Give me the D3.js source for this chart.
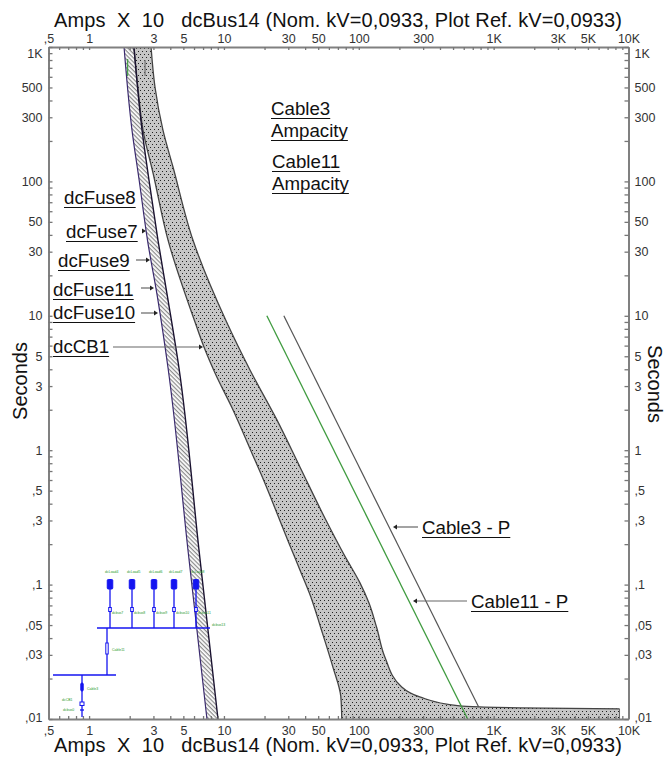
<!DOCTYPE html>
<html>
<head>
<meta charset="utf-8">
<script src="https://cdn.jsdelivr.net/npm/d3@7"></script>
<style>
    body { margin: 0; background: #fff; }
    text { font-family: "Liberation Sans", Arial, sans-serif; }
    .tick-labels text { font-size: 12.5px; fill: #333; font-family: "Liberation Sans", Arial, sans-serif; }
</style>
</head>
<body>
<div id="chart"></div>
<script>
// axis labels
const xTickValues = [0.5, 1, 3, 5, 10, 30, 50, 100, 300, 1000, 3000, 5000, 10000];
const xTickLabels = [",5", "1", "3", "5", "10", "30", "50", "100", "300", "1K", "3K", "5K", "10K"];
const yTickValues = [1000, 500, 300, 100, 50, 30, 10, 5, 3, 1, 0.5, 0.3, 0.1, 0.05, 0.03, 0.01];
const yTickLabels = ["1K", "500", "300", "100", "50", "30", "10", "5", "3", "1", ",5", ",3", ",1", ",05", ",03", ",01"];

// fuse band (amps x 10, seconds)
const fuseSeconds = [1000, 241, 102.4, 36.6, 13.1, 4.09, 0.181, 0.01];
const fuseLeftAmps = [1.816, 2.08, 2.35, 2.71, 3.24, 3.85, 5.41, 7.48];
const fuseRightAmps = [2.15, 2.47, 2.78, 3.24, 3.85, 4.64, 6.53, 9.03];

// breaker band
const cbLeftAmps = [2.15, 2.31, 2.51, 2.98, 3.85, 6.10, 7.11, 8.72, 11.5, 16.1, 20.1, 24.7, 30.3, 36.6, 44.1, 52.3, 64.2, 73.6, 74.8];
const cbLeftSeconds = [1000, 479, 241, 115.5, 36.6, 8.99, 5.86, 3.63, 2.06, 0.953, 0.57, 0.341, 0.204, 0.1286, 0.0809, 0.0475, 0.0244, 0.0146, 0.01];
const cbRightAmps = [2.88, 3.08, 3.53, 4.19, 5.89, 10.3, 15.6, 24.7, 36.6, 56, 78.8, 102, 119, 136, 156, 208, 283, 560, 787, 1558, 8580, 8580];
const cbRightSeconds = [1000, 504, 241, 128, 36.6, 9.3, 3.95, 1.68, 0.75, 0.313, 0.163, 0.103, 0.0729, 0.0475, 0.0289, 0.0173, 0.0146, 0.0125, 0.0123, 0.0121, 0.0119, 0.01];

// cable damage lines
const cable3Amps = [27.8, 774];
const cable3Seconds = [10, 0.0123];
const cable11Amps = [20.8, 642];
const cable11Seconds = [10, 0.01];

// short ampacity marks at the top
const ampacity11Amps = [1.93, 1.93];
const ampacity11Seconds = [814, 608];
const ampacity3Amps = [2.6, 2.6];
const ampacity3Seconds = [800, 608];

const titleText = "Amps  X  10   dcBus14 (Nom. kV=0,0933, Plot Ref. kV=0,0933)";

let width = 665, height = 758;

let svg = d3.select("#chart")
    .append("svg")
    .attr("width", width)
    .attr("height", height)
    .style("display", "block");

let x = d3.scaleLog().domain([0.5, 10000]).range([48.5, 628.5]);
let y = d3.scaleLog().domain([0.01, 1000]).range([719, 47]);

// every 1..9 per decade gets a tick, only some get a label
let decadeTicks = (lo, hi) => {
    let out = [];
    for (let e = -2; e <= 4; e++) {
        for (let m = 1; m <= 9; m++) {
            let v = m * Math.pow(10, e);
            if (v >= lo && v <= hi) out.push(v);
        }
    }
    return out;
};

let closeTo = (a, b) => Math.abs(a - b) / b < 1e-6;
let labelFor = (values, labels) => (v) => {
    let i = values.findIndex((t) => closeTo(v, t));
    return i < 0 ? "" : labels[i];
};

let defs = svg.append("defs");

let hatch = defs.append("pattern")
    .attr("id", "hatch")
    .attr("width", 3)
    .attr("height", 3)
    .attr("patternUnits", "userSpaceOnUse")
    .attr("patternTransform", "rotate(45)");
hatch.append("rect").attr("width", 3).attr("height", 3).attr("fill", "#fff");
hatch.append("rect").attr("width", 3).attr("height", 1.2).attr("fill", "#8a8a8a");

let stipple = defs.append("pattern")
    .attr("id", "stipple")
    .attr("width", 4)
    .attr("height", 6)
    .attr("patternUnits", "userSpaceOnUse");
stipple.append("rect").attr("width", 4).attr("height", 6).attr("fill", "#c6c6c6");
stipple.append("rect").attr("x", 0).attr("y", 0).attr("width", 1).attr("height", 1).attr("fill", "#222");
stipple.append("rect").attr("x", 2).attr("y", 3).attr("width", 1).attr("height", 1).attr("fill", "#222");

let zip = (xs, ys) => xs.map((d, i) => [d, ys[i]]);

let edge = d3.line()
    .x((d) => x(d[0]))
    .y((d) => y(d[1]))
    .curve(d3.curveMonotoneY);

let straight = d3.line()
    .x((d) => x(d[0]))
    .y((d) => y(d[1]));

let band = (left, right, fill) => {
    let rev = right.slice().reverse();
    svg.append("path")
        .attr("d", edge(left) + "L" + edge(rev).slice(1) + "Z")
        .attr("fill", fill);
};

// fuse band
let fuseLeft = zip(fuseLeftAmps, fuseSeconds);
let fuseRight = zip(fuseRightAmps, fuseSeconds);
band(fuseLeft, fuseRight, "url(#hatch)");

// breaker band
let cbLeft = zip(cbLeftAmps, cbLeftSeconds);
let cbRight = zip(cbRightAmps, cbRightSeconds);
band(cbLeft, cbRight, "url(#stipple)");

let cbKnee = cbRight.slice(0, -1);
svg.append("path").attr("d", edge(cbLeft)).attr("fill", "none").attr("stroke", "#444").attr("stroke-width", 1.3);
svg.append("path").attr("d", edge(cbKnee)).attr("fill", "none").attr("stroke", "#444").attr("stroke-width", 1.3);
svg.append("path").attr("d", straight(cbRight.slice(-2))).attr("fill", "none").attr("stroke", "#666").attr("stroke-width", 1);

svg.append("path").attr("d", edge(fuseLeft)).attr("fill", "none").attr("stroke", "#3a2a6e").attr("stroke-width", 1.2);
svg.append("path").attr("d", edge(fuseRight)).attr("fill", "none").attr("stroke", "#1a1230").attr("stroke-width", 1.4);

// cables
svg.append("path").attr("d", straight(zip(cable3Amps, cable3Seconds)))
    .attr("fill", "none").attr("stroke", "#555").attr("stroke-width", 1.2);
svg.append("path").attr("d", straight(zip(cable11Amps, cable11Seconds)))
    .attr("fill", "none").attr("stroke", "#3f9b3f").attr("stroke-width", 1.3);
svg.append("path").attr("d", straight(zip(ampacity11Amps, ampacity11Seconds)))
    .attr("fill", "none").attr("stroke", "#4aa04a").attr("stroke-width", 1.3);
svg.append("path").attr("d", straight(zip(ampacity3Amps, ampacity3Seconds)))
    .attr("fill", "none").attr("stroke", "#777").attr("stroke-width", 1.3);

// axes
let xTicks = decadeTicks(0.5, 10000);
let yTicks = decadeTicks(0.01, 1000);
let xLabel = labelFor(xTickValues, xTickLabels);
let yLabel = labelFor(yTickValues, yTickLabels);

let styleAxis = (g) => {
    g.attr("class", "tick-labels");
    g.selectAll(".domain").attr("stroke", "#808080").attr("stroke-width", 2);
    g.selectAll(".tick line").attr("stroke", "#777").attr("stroke-width", 1.3);
};

svg.append("g").attr("transform", "translate(0,47)")
    .call(d3.axisTop(x).tickValues(xTicks).tickFormat(xLabel).tickSizeInner(-3).tickSizeOuter(0).tickPadding(4))
    .call(styleAxis);
svg.append("g").attr("transform", "translate(0,719)")
    .call(d3.axisBottom(x).tickValues(xTicks).tickFormat(xLabel).tickSizeInner(-3).tickSizeOuter(0).tickPadding(7))
    .call(styleAxis);

let leftAxis = svg.append("g").attr("transform", "translate(48.5,0)")
    .call(d3.axisLeft(y).tickValues(yTicks).tickFormat(yLabel).tickSizeInner(-4).tickSizeOuter(0).tickPadding(6))
    .call(styleAxis);
let rightAxis = svg.append("g").attr("transform", "translate(628.5,0)")
    .call(d3.axisRight(y).tickValues(yTicks).tickFormat(yLabel).tickSizeInner(-4).tickSizeOuter(0).tickPadding(6))
    .call(styleAxis);

[leftAxis, rightAxis].forEach((a) => {
    a.selectAll(".tick text")
        .filter((d) => closeTo(d, 1000))
        .attr("dy", "0.84em");
    a.selectAll(".tick text")
        .filter((d) => closeTo(d, 0.01))
        .attr("dy", "0.16em");
});

// titles
[27, 752].forEach((yPos) => {
    svg.append("text")
        .attr("x", 54)
        .attr("y", yPos)
        .attr("font-size", 20)
        .attr("fill", "#111")
        .attr("textLength", 568)
        .attr("lengthAdjust", "spacing")
        .style("white-space", "pre")
        .text(titleText);
});

svg.append("text")
    .attr("transform", "translate(27,381) rotate(-90)")
    .attr("text-anchor", "middle")
    .attr("font-size", 20)
    .attr("fill", "#111")
    .text("Seconds");
svg.append("text")
    .attr("transform", "translate(648,384) rotate(90)")
    .attr("text-anchor", "middle")
    .attr("font-size", 20)
    .attr("fill", "#111")
    .text("Seconds");

// underlined tags with their leader arrows
let tag = (label, tx, ty, arrow) => {
    let t = svg.append("text")
        .attr("x", tx)
        .attr("y", ty)
        .attr("font-size", 18.7)
        .attr("fill", "#111")
        .text(label);
    let len = t.node().getComputedTextLength();
    svg.append("line")
        .attr("x1", tx).attr("x2", tx + len)
        .attr("y1", ty + 3.5).attr("y2", ty + 3.5)
        .attr("stroke", "#111").attr("stroke-width", 1.2);
    if (!arrow) return;
    let dir = arrow[1] > arrow[0] ? 1 : -1;
    svg.append("line")
        .attr("x1", arrow[0]).attr("x2", arrow[1] - dir * 3)
        .attr("y1", arrow[2]).attr("y2", arrow[2])
        .attr("stroke", "#666").attr("stroke-width", 1.2);
    svg.append("path")
        .attr("d", `M${arrow[1]},${arrow[2]}l${-dir * 4},-2.5v5Z`)
        .attr("fill", "#222");
};

tag("Cable3", 271, 115);
tag("Ampacity", 271, 137);
tag("Cable11", 272, 168);
tag("Ampacity", 272, 190);
tag("dcFuse8", 64, 204);
tag("dcFuse7", 66, 238, [144, 146, 231]);
tag("dcFuse9", 58, 267, [136, 150, 260]);
tag("dcFuse11", 53, 296, [141, 154, 288]);
tag("dcFuse10", 53, 319, [141, 158, 313]);
tag("dcCB1", 53, 353, [113, 203, 347]);
tag("Cable3 - P", 422, 534, [418, 393, 527]);
tag("Cable11 - P", 471, 608, [467, 413, 601]);

// one-line sketch drawn over the lower left corner
let drawOneLine = () => {
    let g = svg.append("g");
    let blue = "#1414f0";
    let wire = (x1, y1, x2, y2, w) => g.append("line")
        .attr("x1", x1).attr("y1", y1).attr("x2", x2).attr("y2", y2)
        .attr("stroke", blue).attr("stroke-width", w || 1.3);
    let box = (cx, y1, y2, w, filled) => g.append("rect")
        .attr("x", cx - w / 2).attr("y", y1).attr("width", w).attr("height", y2 - y1)
        .attr("rx", filled ? 1 : 0)
        .attr("fill", filled ? blue : "#fff").attr("stroke", blue).attr("stroke-width", 1);
    let small = (s, sx, sy) => g.append("text")
        .attr("x", sx).attr("y", sy)
        .attr("font-size", 3.5)
        .attr("fill", "#2a9a2a")
        .text(s);

    wire(97, 628, 210, 628);
    wire(53, 675, 116, 675);
    wire(107, 628, 107, 675);
    box(107, 643, 654, 2.4);
    wire(82, 675, 82, 717);
    box(82, 683, 691, 2.4, true);
    box(82, 702, 705.5, 4);
    wire(80, 710, 84, 710);

    [110, 132, 154, 174, 196].forEach((fx, i) => {
        wire(fx, 628, fx, 585);
        box(fx, 579.5, 589, 5.5, true);
        box(fx, 607.5, 611.5, 2.6);
        small("dcLoad" + (i + 4), fx - 5, 573);
        small("dcbus" + (i + 7), fx + 2, 614);
    });
    small("dcbus13", 212, 626);
    small("Cable11", 112, 651);
    small("Cable3", 87, 690);
    small("dcCB1", 62, 701);
    small("dcbus0", 63, 711);
};
drawOneLine();
</script>
</body>
</html>
